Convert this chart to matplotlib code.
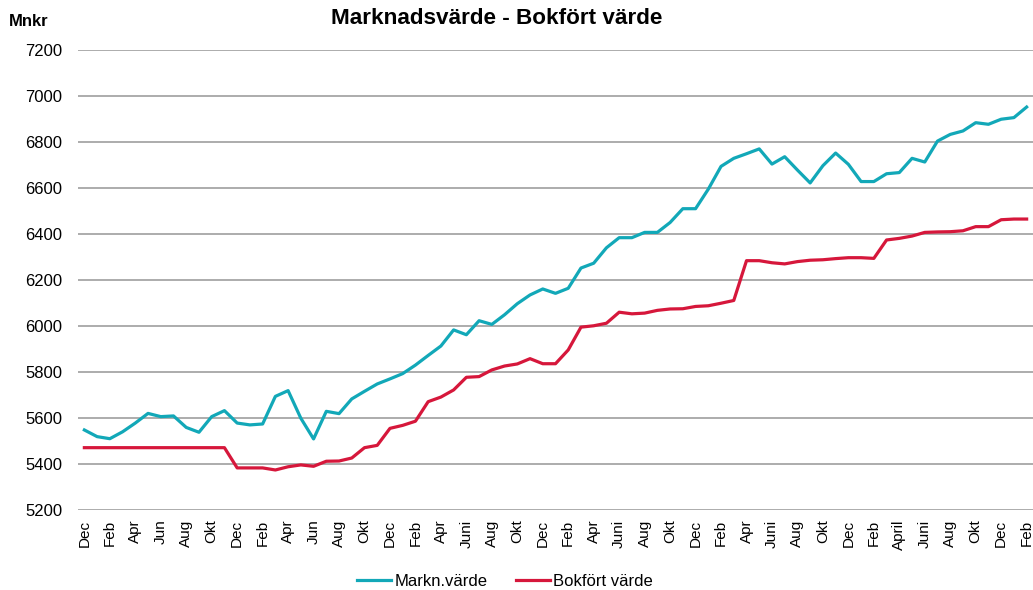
import matplotlib
matplotlib.use("Agg")
import matplotlib.pyplot as plt
import numpy as np

plt.rcParams['font.family'] = ['Liberation Sans', 'DejaVu Sans']

# Month tick labels (every second month)
tick_labels = ["Dec", "Feb", "Apr", "Jun", "Aug", "Okt", "Dec", "Feb", "Apr", "Jun",
               "Aug", "Okt", "Dec", "Feb", "Apr", "Juni", "Aug", "Okt", "Dec", "Feb",
               "Apr", "Juni", "Aug", "Okt", "Dec", "Feb", "Apr", "Juni", "Aug", "Okt",
               "Dec", "Feb", "April", "Juni", "Aug", "Okt", "Dec", "Feb"]

# Marknadsvärde, Mnkr (monthly)
markn_varde = [5548, 5519, 5510, 5540, 5578, 5620, 5606, 5609, 5559, 5538,
               5606, 5632, 5578, 5570, 5574, 5694, 5719, 5599, 5509, 5629,
               5619, 5683, 5716, 5748, 5770, 5793, 5830, 5872, 5913, 5983,
               5962, 6023, 6007, 6049, 6097, 6135, 6161, 6142, 6164, 6252,
               6273, 6340, 6384, 6384, 6407, 6407, 6450, 6510, 6510, 6595,
               6694, 6729, 6749, 6770, 6704, 6736, 6678, 6622, 6697, 6752,
               6703, 6628, 6628, 6662, 6667, 6729, 6713, 6804, 6833, 6848,
               6884, 6877, 6899, 6906, 6952]

# Bokfört värde, Mnkr (monthly)
bokfort_varde = [5471, 5471, 5471, 5471, 5471, 5471, 5471, 5471, 5471, 5471,
                 5471, 5471, 5383, 5383, 5383, 5374, 5388, 5396, 5390, 5412,
                 5413, 5426, 5471, 5481, 5555, 5568, 5586, 5671, 5691, 5722,
                 5777, 5780, 5809, 5826, 5835, 5858, 5836, 5836, 5896, 5995,
                 6001, 6012, 6060, 6053, 6056, 6068, 6074, 6075, 6085, 6088,
                 6099, 6111, 6284, 6284, 6275, 6270, 6280, 6286, 6288, 6293,
                 6297, 6297, 6294, 6374, 6381, 6391, 6407, 6409, 6410, 6414,
                 6432, 6432, 6462, 6465, 6465]

W, H = 1033, 590
fig = plt.figure(figsize=(W / 100, H / 100), dpi=100)
ax = fig.add_axes([78 / W, (H - 510) / H, 955 / W, 460 / H])

x = np.arange(len(markn_varde))
ax.plot(x, markn_varde, color='#12A8B8', lw=2.3, label='Markn.värde', solid_joinstyle='round')
ax.plot(x, bokfort_varde, color='#D6173B', lw=2.3, label='Bokfört värde', solid_joinstyle='round')

ax.set_xlim(-0.5, len(x) - 0.5)
ax.set_ylim(5200, 7200)
ax.set_yticks(np.arange(5200, 7201, 200))
ax.set_xticks(x[::2])
ax.set_xticklabels(tick_labels, rotation=90)
ax.tick_params(axis='both', length=0)
ax.tick_params(axis='x', pad=7, labelsize=11)
ax.tick_params(axis='y', pad=11.5, labelsize=12)

for s in ax.spines.values():
    s.set_visible(False)
ax.grid(axis='y', color='#9E9E9E', lw=1.2)
ax.set_axisbelow(True)

fig.text(497 / W, 1 - 18 / H, 'Marknadsvärde - Bokfört värde', ha='center', va='center',
         fontsize=16.2, fontweight='bold')
fig.text(9 / W, 1 - 22 / H, 'Mnkr', ha='left', va='center', fontsize=12, fontweight='bold')

fig.legend(loc='center', bbox_to_anchor=(505 / W, 1 - 581 / H), ncol=2, frameon=False,
           fontsize=12, handlelength=2.05, handletextpad=0.18, columnspacing=1.7,
           borderaxespad=0, borderpad=0)

fig.savefig('out.png', dpi=100)
